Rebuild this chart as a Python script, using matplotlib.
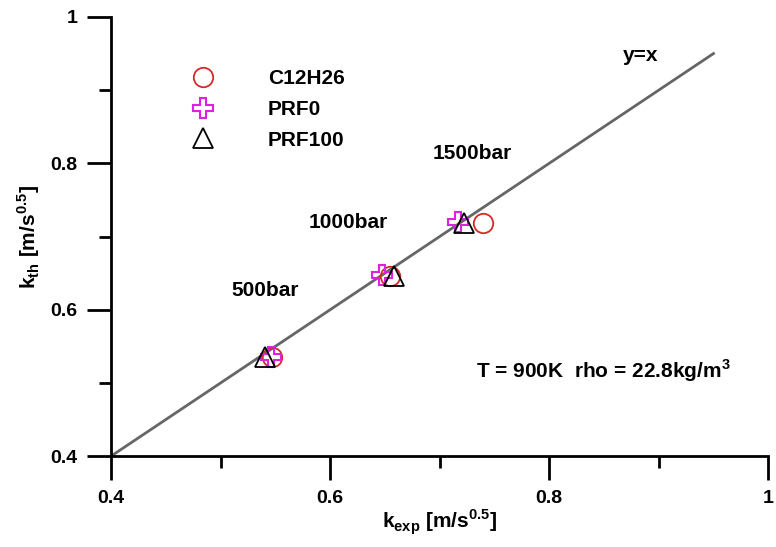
import numpy as np
import matplotlib.pyplot as plt
from matplotlib.ticker import MultipleLocator

plt.rcParams['font.family'] = ['Liberation Sans', 'DejaVu Sans']
plt.rcParams['mathtext.fontset'] = 'custom'
plt.rcParams['mathtext.rm'] = 'Liberation Sans:bold'
plt.rcParams['mathtext.bf'] = 'Liberation Sans:bold'

# измеренные и расчётные значения k для 500, 1000, 1500 бар
k_exp_c12 = [0.547, 0.655, 0.740]
k_th_c12 = [0.535, 0.646, 0.719]
k_exp_prf0 = [0.546, 0.647, 0.717]
k_th_prf0 = [0.535, 0.647, 0.720]
k_exp_prf100 = [0.541, 0.658, 0.722]
k_th_prf100 = [0.535, 0.646, 0.718]

# линия y=x
line_x = [0.4, 0.95]

fig = plt.figure(figsize=(7.76, 5.47), dpi=100)
ax = fig.add_axes([0.143, 0.166, 0.847, 0.803])

ax.plot(line_x, line_x, color="#666666", linewidth=2, zorder=1)

ax.plot(k_exp_c12, k_th_c12, 'o', markersize=14, markerfacecolor='none',
        markeredgecolor='#d42a2a', markeredgewidth=1.3, label='C12H26', zorder=2)
ax.plot(k_exp_prf0, k_th_prf0, 'P', markersize=14, markerfacecolor='none',
        markeredgecolor='#e020e0', markeredgewidth=1.5, label='PRF0', zorder=3)
ax.plot(k_exp_prf100, k_th_prf100, '^', markersize=14, markerfacecolor='none',
        markeredgecolor='black', markeredgewidth=1.3, label='PRF100', zorder=4)

ax.set_xlim(0.4, 1)
ax.set_ylim(0.4, 1)
ax.xaxis.set_minor_locator(MultipleLocator(0.1))
ax.yaxis.set_minor_locator(MultipleLocator(0.1))
ax.set_xticks([0.4, 0.6, 0.8, 1.0])
ax.set_xticklabels(['0.4', '0.6', '0.8', '1'])
ax.set_yticks([0.4, 0.6, 0.8, 1.0])
ax.set_yticklabels(['0.4', '0.6', '0.8', '1'])

ax.spines['top'].set_visible(False)
ax.spines['right'].set_visible(False)
ax.spines['left'].set_linewidth(2)
ax.spines['bottom'].set_linewidth(2)
ax.tick_params(which='major', direction='out', length=17, width=2,
               labelsize=14, pad=7)
ax.tick_params(which='minor', direction='out', length=8.5, width=2)
for lbl in ax.get_xticklabels() + ax.get_yticklabels():
    lbl.set_fontweight('bold')

ax.set_xlabel(r'k$_{\mathrm{exp}}$ [m/s$^{0.5}$]', fontsize=15,
              fontweight='bold', labelpad=1)
ax.set_ylabel(r'k$_{\mathrm{th}}$ [m/s$^{0.5}$]', fontsize=15,
              fontweight='bold', labelpad=6)

ax.text(0.867, 0.947, 'y=x', fontsize=15, fontweight='bold', ha='left', va='center')
ax.text(0.694, 0.814, '1500bar', fontsize=15, fontweight='bold', ha='left', va='center')
ax.text(0.580, 0.719, '1000bar', fontsize=15, fontweight='bold', ha='left', va='center')
ax.text(0.510, 0.627, '500bar', fontsize=15, fontweight='bold', ha='left', va='center')
ax.text(0.733, 0.517, r'T = 900K  rho = 22.8kg/m$^3$', fontsize=15,
        fontweight='bold', ha='left', va='center')

leg = ax.legend(loc='upper left', bbox_to_anchor=(0.096, 0.9), borderaxespad=0,
                frameon=False, fontsize=15, handletextpad=2.1, labelspacing=0.56,
                numpoints=1)
for t in leg.get_texts():
    t.set_fontweight('bold')

fig.savefig('out.png', dpi=100)
